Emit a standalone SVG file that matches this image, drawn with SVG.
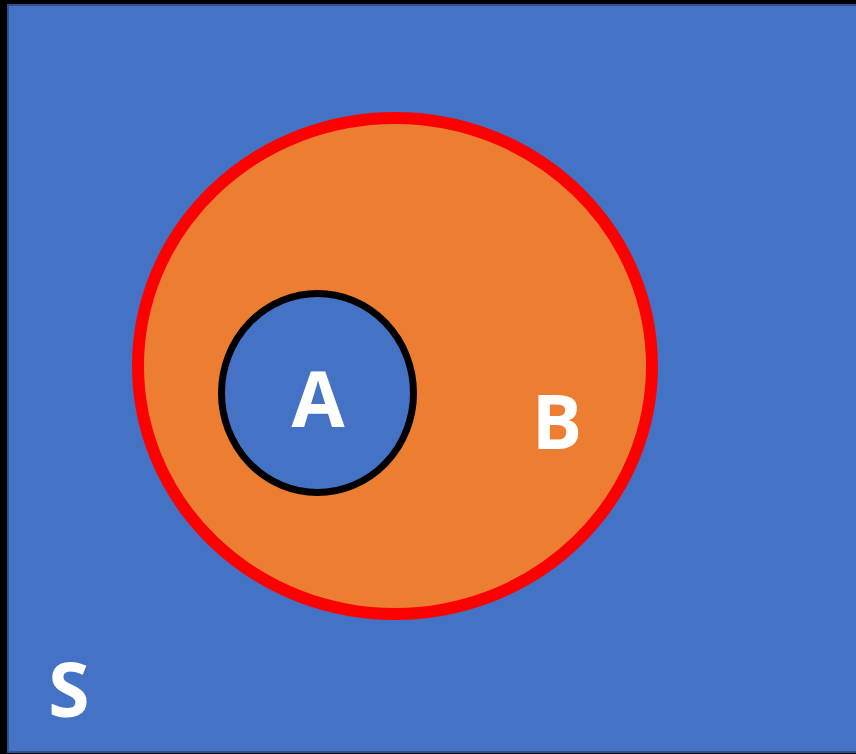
<svg xmlns="http://www.w3.org/2000/svg" width="856" height="754" viewBox="0 0 856 754">
<style>
.lbl{font-family:"Open Sans","Liberation Sans",sans-serif;font-weight:bold;fill:#fff;text-anchor:middle}
</style>
<rect x="0" y="0" width="856" height="754" fill="#000"/>
<g id="S">
<rect x="8" y="5" width="860" height="747" fill="#4472C4" stroke="#2F528F" stroke-width="2"/>
<text class="lbl" x="69" y="717" font-size="75">S</text>
</g>
<g id="B">
<ellipse cx="395" cy="366" rx="257" ry="248" fill="#ED7D31" stroke="#FF0000" stroke-width="12"/>
<text class="lbl" x="557" y="449" font-size="75">B</text>
</g>
<g id="A">
<ellipse cx="317.5" cy="393" rx="96" ry="99.5" fill="#4472C4" stroke="#000" stroke-width="7"/>
<text class="lbl" x="318" y="427" font-size="77">A</text>
</g>
<g id="connectors"/>
</svg>
